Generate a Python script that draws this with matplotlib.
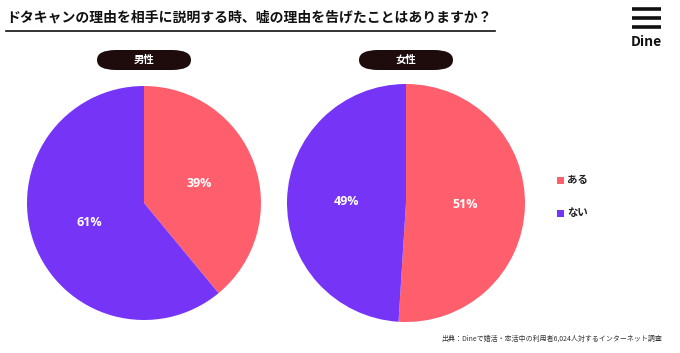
import matplotlib.pyplot as plt
from matplotlib.patches import FancyBboxPatch
from matplotlib.lines import Line2D

plt.rcParams['font.family'] = ['Noto Sans CJK JP', 'DejaVu Sans']

title = 'ドタキャンの理由を相手に説明する時、嘘の理由を告げたことはありますか？'
answers = ['ある', 'ない']
groups = ['男性', '女性']
male = [39, 61]
female = [51, 49]
colors = ['#FF5F6D', '#7634F7']
source = '出典：Dineで婚活・恋活中の利用者6,024人対するインターネット調査'

W, H = 680, 353
fig = plt.figure(figsize=(W / 100, H / 100), dpi=100)
fig.patch.set_facecolor('white')


def px(x, y):
    return x / W, 1 - y / H


# title with underline
fig.text(*px(6, 18), title, fontsize=10, fontweight='bold', va='center', ha='left', color='#111111')
fig.add_artist(Line2D([6 / W, 495 / W], [1 - 31 / H, 1 - 31 / H], color='#111111', lw=1.2))

# Dine logo
for yy in (9, 18, 27):
    fig.add_artist(Line2D([632 / W, 661 / W], [1 - yy / H] * 2, color='#111111', lw=2.6, solid_capstyle='butt'))
fig.text(*px(646, 42), 'Dine', fontsize=10, fontweight='bold', ha='center', va='center', color='#111111')


def draw_pie(cx, cy, r, vals, lab):
    ax = fig.add_axes([(cx - r) / W, 1 - (cy + r) / H, 2 * r / W, 2 * r / H])
    ax.pie(vals, colors=colors, startangle=90, counterclock=False,
           autopct='%d%%', pctdistance=0.5,
           textprops=dict(color='white', fontsize=9, fontweight='bold',
                          family=['Open Sans', 'DejaVu Sans']),
           wedgeprops=dict(linewidth=0))
    ax.set_xlim(-1, 1)
    ax.set_ylim(-1, 1)
    ax.set_aspect('equal')
    # pill label
    pw, ph = 94, 20
    pill = FancyBboxPatch(((cx - pw / 2) / W, 1 - (60 + ph / 2) / H), pw / W, ph / H,
                          boxstyle='round,pad=0,rounding_size=0.028',
                          transform=fig.transFigure, facecolor='#1E0B0B', edgecolor='none')
    fig.add_artist(pill)
    fig.text(*px(cx, 60), lab, fontsize=7.5, fontweight='bold', color='white', ha='center', va='center')


draw_pie(144, 203, 117, male, groups[0])
draw_pie(406, 203, 119, female, groups[1])

# legend
for i, (a, c) in enumerate(zip(answers, colors)):
    y = 180 + 33 * i
    fig.add_artist(FancyBboxPatch(((557) / W, 1 - (y + 3.5) / H), 7 / W, 7 / H,
                                  boxstyle='square,pad=0', transform=fig.transFigure,
                                  facecolor=c, edgecolor='none'))
    fig.text(*px(567, y), a, fontsize=7.5, fontweight='bold', ha='left', va='center', color='#222222')

fig.text(*px(662, 339), source, fontsize=5, ha='right', va='center', color='#333333')

fig.savefig('out.png', dpi=100)
